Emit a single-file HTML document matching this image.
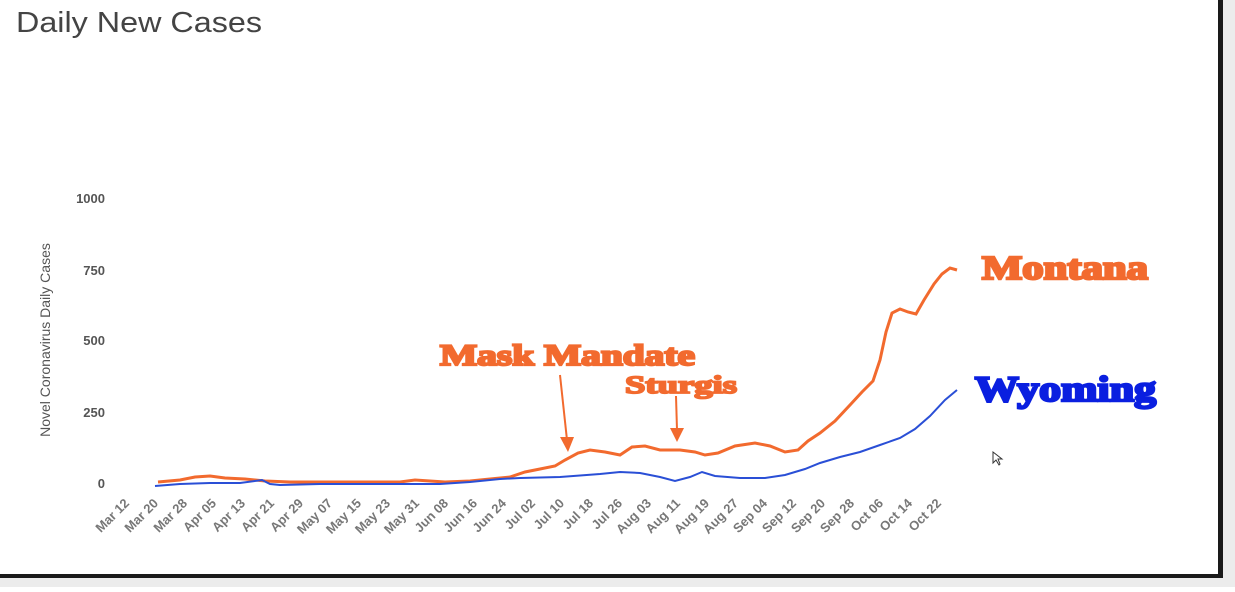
<!DOCTYPE html>
<html><head><meta charset="utf-8"><style>
body{margin:0;width:1235px;height:587px;overflow:hidden;background:#fff;font-family:"Liberation Sans",sans-serif}
</style></head><body>
<svg width="1235" height="587" xmlns="http://www.w3.org/2000/svg">
<rect x="0" y="0" width="1235" height="587" fill="#fff"/>
<rect x="1223" y="0" width="12" height="587" fill="#ececec"/>
<rect x="0" y="578" width="1235" height="9" fill="#ececec"/>
<rect x="1218" y="0" width="5" height="578" fill="#1a1a1a"/>
<rect x="0" y="574" width="1223" height="4" fill="#1a1a1a"/>
<text x="16" y="32" font-size="29" fill="#444" textLength="246" lengthAdjust="spacingAndGlyphs">Daily New Cases</text>
<g font-size="13" fill="#555" font-weight="bold" text-anchor="end">
<text x="105" y="203">1000</text><text x="105" y="275">750</text><text x="105" y="345">500</text><text x="105" y="417">250</text><text x="105" y="488">0</text>
</g>
<text transform="translate(50,340) rotate(-90)" font-size="14" fill="#555" text-anchor="middle">Novel Coronavirus Daily Cases</text>
<polyline fill="none" stroke="#f26a2e" stroke-width="3" points="158,482 180,480 195,477 210,476 225,478 245,479 265,481 290,482 340,482 400,482 415,480 430,481 445,482 470,481 490,479 510,477 525,472 540,469 555,466 565,460 578,453 590,450 605,452 620,455 632,447 645,446 660,450 680,450 695,452 705,455 718,453 735,446 755,443 770,446 785,452 798,450 808,441 820,433 835,421 850,405 862,392 873,381 880,360 886,332 892,313 900,309 908,312 916,314 924,300 934,284 942,274 950,268 957,270"/>
<polyline fill="none" stroke="#2a4fd6" stroke-width="2" points="155,486 180,484 210,483 240,483 262,480 270,484 280,485 320,484 380,484 440,484 470,482 500,479 520,478 560,477 600,474 620,472 640,473 660,477 675,481 690,477 702,472 715,476 740,478 765,478 785,475 805,469 820,463 840,457 860,452 880,445 900,438 915,429 930,416 945,400 957,390"/>
<g fill="#f26a2e" stroke="#f26a2e">
<line x1="560" y1="375" x2="567" y2="440" stroke-width="2"/><polygon points="560,437 574,437 568,452" stroke="none"/>
<line x1="676" y1="396" x2="677" y2="430" stroke-width="2"/><polygon points="670,428 684,428 677,442" stroke="none"/>
</g>
<g font-family="Liberation Serif,serif" font-weight="bold">
<text x="440" y="365" font-size="30" fill="#f26a2e" stroke="#f26a2e" stroke-width="2.2" textLength="255" lengthAdjust="spacingAndGlyphs">Mask Mandate</text>
<text x="625" y="393" font-size="25" fill="#f26a2e" stroke="#f26a2e" stroke-width="1.8" textLength="112" lengthAdjust="spacingAndGlyphs">Sturgis</text>
<text x="982" y="279" font-size="34" fill="#f26a2e" stroke="#f26a2e" stroke-width="2.5" textLength="166" lengthAdjust="spacingAndGlyphs">Montana</text>
<text x="975" y="401" font-size="36" fill="#0a1fe0" stroke="#0a1fe0" stroke-width="2.5" textLength="181" lengthAdjust="spacingAndGlyphs">Wyoming</text>
</g>
<polygon points="993,452 993,463 996,460 999,465 1000,464 998,459 1002,459" fill="#fff" stroke="#333" stroke-width="1"/>
<g font-size="13" fill="#777" font-weight="bold" text-anchor="end">
<text transform="translate(130,504) rotate(-45)">Mar 12</text>
<text transform="translate(159,504) rotate(-45)">Mar 20</text>
<text transform="translate(188,504) rotate(-45)">Mar 28</text>
<text transform="translate(217,504) rotate(-45)">Apr 05</text>
<text transform="translate(246,504) rotate(-45)">Apr 13</text>
<text transform="translate(275,504) rotate(-45)">Apr 21</text>
<text transform="translate(304,504) rotate(-45)">Apr 29</text>
<text transform="translate(333,504) rotate(-45)">May 07</text>
<text transform="translate(362,504) rotate(-45)">May 15</text>
<text transform="translate(391,504) rotate(-45)">May 23</text>
<text transform="translate(420,504) rotate(-45)">May 31</text>
<text transform="translate(449,504) rotate(-45)">Jun 08</text>
<text transform="translate(478,504) rotate(-45)">Jun 16</text>
<text transform="translate(507,504) rotate(-45)">Jun 24</text>
<text transform="translate(536,504) rotate(-45)">Jul 02</text>
<text transform="translate(565,504) rotate(-45)">Jul 10</text>
<text transform="translate(594,504) rotate(-45)">Jul 18</text>
<text transform="translate(623,504) rotate(-45)">Jul 26</text>
<text transform="translate(652,504) rotate(-45)">Aug 03</text>
<text transform="translate(681,504) rotate(-45)">Aug 11</text>
<text transform="translate(710,504) rotate(-45)">Aug 19</text>
<text transform="translate(739,504) rotate(-45)">Aug 27</text>
<text transform="translate(768,504) rotate(-45)">Sep 04</text>
<text transform="translate(797,504) rotate(-45)">Sep 12</text>
<text transform="translate(826,504) rotate(-45)">Sep 20</text>
<text transform="translate(855,504) rotate(-45)">Sep 28</text>
<text transform="translate(884,504) rotate(-45)">Oct 06</text>
<text transform="translate(913,504) rotate(-45)">Oct 14</text>
<text transform="translate(942,504) rotate(-45)">Oct 22</text>
</g>
</svg>
</body></html>
